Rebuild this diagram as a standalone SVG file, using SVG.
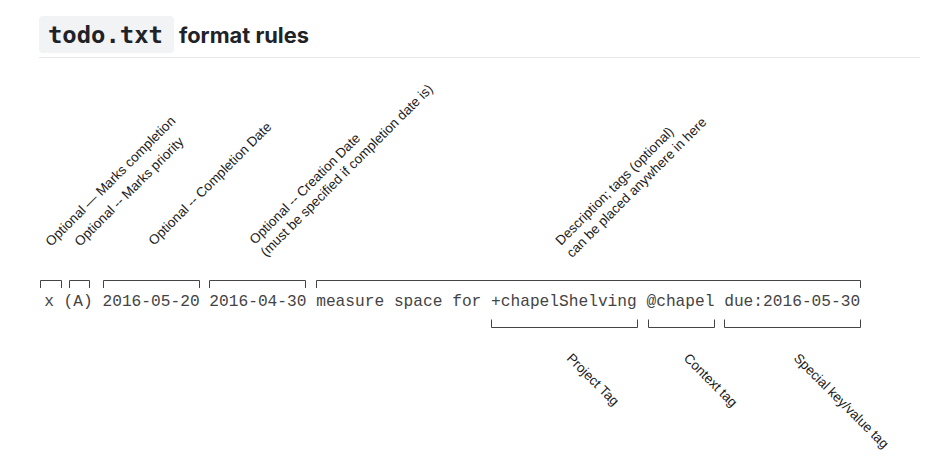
<svg xmlns="http://www.w3.org/2000/svg" width="929" height="460" viewBox="0 0 929 460">
  <style>
    .lbl { font-family: "Liberation Sans", Arial, sans-serif; font-size: 13.5px; fill: #1a1a1a; }
    .code { font-family: "Liberation Mono", "Courier New", monospace; font-size: 16.2px; fill: #444; white-space: pre; }
    .br { fill: none; stroke: #444; stroke-width: 1; }
    .title { font-family: Inter, "Liberation Sans", sans-serif; font-weight: 700; font-size: 21px; fill: #1f2328; }
    .mono-title { font-family: "DejaVu Sans Mono", "Liberation Mono", monospace; font-weight: 700; font-size: 23px; fill: #1f2328; }
  </style>
  <rect width="929" height="460" fill="#ffffff"/>

  <g id="title">
    <rect x="39" y="16" width="135" height="37" rx="4" fill="#f2f3f5"/>
    <text class="mono-title" x="48" y="43" textLength="115" lengthAdjust="spacingAndGlyphs">todo.txt</text>
    <text class="title" x="179" y="43" textLength="130" lengthAdjust="spacingAndGlyphs">format rules</text>
    <line x1="39" y1="57.5" x2="920" y2="57.5" stroke="#e5e7ea" stroke-width="1"/>
  </g>

  <g id="todo-line">
    <text class="code" x="44.2" y="306">x (A) 2016-05-20 2016-04-30 measure space for +chapelShelving @chapel due:2016-05-30</text>
  </g>

  <g id="connectors">
    <path class="br" d="M40.5 288 V280.5 H61.5 V288"/>
    <path class="br" d="M69.5 288 V280.5 H89.5 V288"/>
    <path class="br" d="M103.5 288 V280.5 H199.5 V288"/>
    <path class="br" d="M209.5 288 V280.5 H305.5 V288"/>
    <path class="br" d="M316.5 288 V280.5 H860.5 V288"/>
    <path class="br" d="M491.5 319.5 V327.5 H637.5 V319.5"/>
    <path class="br" d="M648.5 319.5 V327.5 H714.5 V319.5"/>
    <path class="br" d="M724.5 319.5 V327.5 H860.5 V319.5"/>
  </g>

  <g id="label-completion">
    <text class="lbl" transform="translate(51 247) rotate(-45)">Optional — Marks completion</text>
  </g>
  <g id="label-priority">
    <text class="lbl" transform="translate(80 247) rotate(-45)">Optional -- Marks priority</text>
  </g>
  <g id="label-completion-date">
    <text class="lbl" transform="translate(154 246) rotate(-45)">Optional -- Completion Date</text>
  </g>
  <g id="label-creation-date">
    <text class="lbl" transform="translate(255 245) rotate(-45)"><tspan x="0" y="0">Optional -- Creation Date</tspan><tspan x="-1" dy="16.5">(must be specified if completion date is)</tspan></text>
  </g>
  <g id="label-description">
    <text class="lbl" transform="translate(561 246) rotate(-45)"><tspan x="0" y="0">Description; tags (optional)</tspan><tspan x="-1" dy="16.5">can be placed anywhere in here</tspan></text>
  </g>
  <g id="label-project">
    <text class="lbl" transform="translate(566 359) rotate(45)">Project Tag</text>
  </g>
  <g id="label-context">
    <text class="lbl" transform="translate(683 359) rotate(45)">Context tag</text>
  </g>
  <g id="label-special">
    <text class="lbl" transform="translate(793 359) rotate(45)">Special key/value tag</text>
  </g>
</svg>
